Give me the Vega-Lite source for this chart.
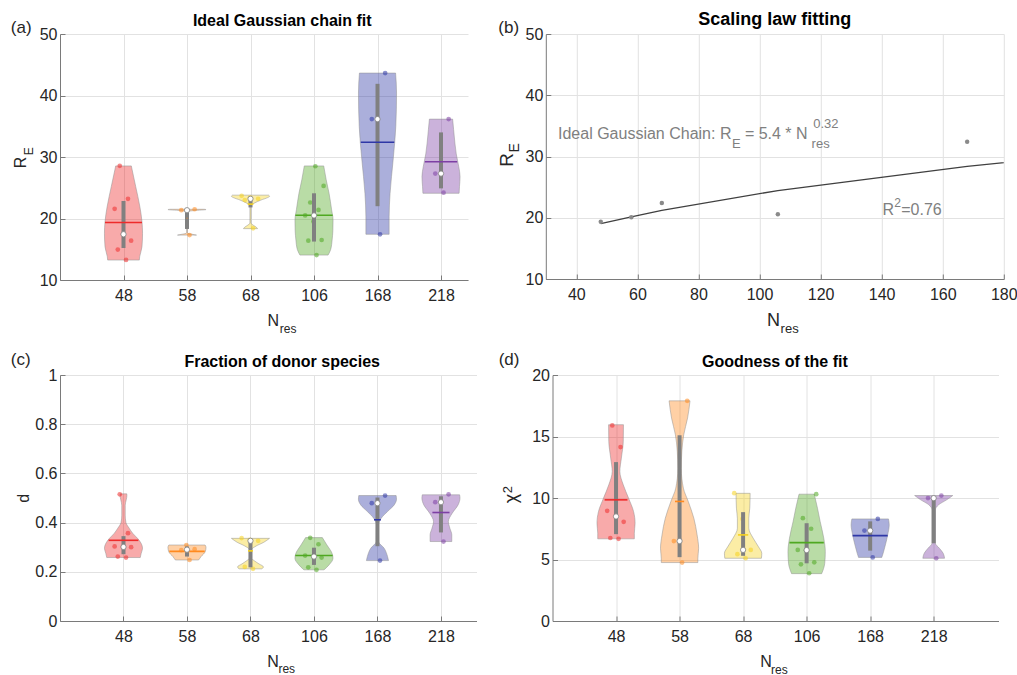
{
"$schema": "https://vega.github.io/schema/vega-lite/v6.json",
"background": "white",
"padding": {"left": 10, "top": 10, "right": 0, "bottom": 0},
"config": {
 "view": {"stroke": null},
 "font": "Liberation Sans",
 "text": {"font": "Liberation Sans", "color": "#000000"},
 "axis": {"labelFont": "Liberation Sans", "labelFontSize": 16, "labelColor": "#262626", "domainColor": "#7a7a7a", "tickColor": "#7a7a7a", "gridColor": "#e2e2e2", "gridWidth": 1, "tickSize": -5, "labelFlush": false},
 "axisX": {"labelPadding": 12},
 "axisY": {"labelPadding": 8}
},
"datasets": {
 "violin": [
  {"p":"a","N":48,"y":13.24,"w":0.83},{"p":"a","N":48,"y":13.8,"w":0.85},{"p":"a","N":48,"y":15.4,"w":0.97},{"p":"a","N":48,"y":17.6,"w":1},{"p":"a","N":48,"y":19.5,"w":0.97},{"p":"a","N":48,"y":21.9,"w":0.86},{"p":"a","N":48,"y":25.2,"w":0.64},{"p":"a","N":48,"y":28.55,"w":0.41},
  {"p":"a","N":58,"y":17.3,"w":0.5},{"p":"a","N":58,"y":17.45,"w":0.25},{"p":"a","N":58,"y":17.6,"w":0.05},{"p":"a","N":58,"y":17.8,"w":0.015},{"p":"a","N":58,"y":21.1,"w":0.015},{"p":"a","N":58,"y":21.3,"w":0.4},{"p":"a","N":58,"y":21.45,"w":1},{"p":"a","N":58,"y":21.5,"w":0.9},
  {"p":"a","N":68,"y":18.35,"w":0.37},{"p":"a","N":68,"y":18.6,"w":0.3},{"p":"a","N":68,"y":18.9,"w":0.15},{"p":"a","N":68,"y":19.25,"w":0.03},{"p":"a","N":68,"y":22.2,"w":0.03},{"p":"a","N":68,"y":22.5,"w":0.2},{"p":"a","N":68,"y":23,"w":0.55},{"p":"a","N":68,"y":23.4,"w":0.9},{"p":"a","N":68,"y":23.6,"w":1},{"p":"a","N":68,"y":23.8,"w":0.95},
  {"p":"a","N":106,"y":14.05,"w":0.74},{"p":"a","N":106,"y":15,"w":0.88},{"p":"a","N":106,"y":16.5,"w":0.95},{"p":"a","N":106,"y":18,"w":0.99},{"p":"a","N":106,"y":19.75,"w":1},{"p":"a","N":106,"y":21.5,"w":0.92},{"p":"a","N":106,"y":24.1,"w":0.79},{"p":"a","N":106,"y":26.3,"w":0.64},{"p":"a","N":106,"y":28.55,"w":0.51},
  {"p":"a","N":168,"y":17.43,"w":0.61},{"p":"a","N":168,"y":20.3,"w":0.61},{"p":"a","N":168,"y":24.1,"w":0.66},{"p":"a","N":168,"y":29.5,"w":0.82},{"p":"a","N":168,"y":34.95,"w":0.96},{"p":"a","N":168,"y":40.4,"w":1},{"p":"a","N":168,"y":43.65,"w":0.95},
  {"p":"a","N":218,"y":24.1,"w":0.95},{"p":"a","N":218,"y":25.2,"w":0.97},{"p":"a","N":218,"y":26.8,"w":1},{"p":"a","N":218,"y":28.45,"w":0.93},{"p":"a","N":218,"y":30.5,"w":0.8},{"p":"a","N":218,"y":32.25,"w":0.73},{"p":"a","N":218,"y":34.5,"w":0.66},{"p":"a","N":218,"y":36.16,"w":0.61},
  {"p":"c","N":48,"y":0.258,"w":0.88},{"p":"c","N":48,"y":0.275,"w":0.93},{"p":"c","N":48,"y":0.296,"w":1},{"p":"c","N":48,"y":0.315,"w":0.93},{"p":"c","N":48,"y":0.335,"w":0.75},{"p":"c","N":48,"y":0.355,"w":0.5},{"p":"c","N":48,"y":0.377,"w":0.3},{"p":"c","N":48,"y":0.4,"w":0.13},{"p":"c","N":48,"y":0.43,"w":0.09},{"p":"c","N":48,"y":0.47,"w":0.09},{"p":"c","N":48,"y":0.495,"w":0.15},{"p":"c","N":48,"y":0.51,"w":0.18},{"p":"c","N":48,"y":0.517,"w":0.17},
  {"p":"c","N":58,"y":0.248,"w":0.61},{"p":"c","N":58,"y":0.262,"w":0.74},{"p":"c","N":58,"y":0.282,"w":0.96},{"p":"c","N":58,"y":0.3,"w":1},{"p":"c","N":58,"y":0.309,"w":0.95},
  {"p":"c","N":68,"y":0.212,"w":0.6},{"p":"c","N":68,"y":0.22,"w":0.68},{"p":"c","N":68,"y":0.232,"w":0.45},{"p":"c","N":68,"y":0.245,"w":0.2},{"p":"c","N":68,"y":0.255,"w":0.06},{"p":"c","N":68,"y":0.29,"w":0.06},{"p":"c","N":68,"y":0.305,"w":0.3},{"p":"c","N":68,"y":0.32,"w":0.7},{"p":"c","N":68,"y":0.336,"w":1},
  {"p":"c","N":106,"y":0.208,"w":0.53},{"p":"c","N":106,"y":0.228,"w":0.79},{"p":"c","N":106,"y":0.255,"w":1},{"p":"c","N":106,"y":0.275,"w":0.95},{"p":"c","N":106,"y":0.309,"w":0.68},{"p":"c","N":106,"y":0.339,"w":0.44},
  {"p":"c","N":168,"y":0.2455,"w":0.58},{"p":"c","N":168,"y":0.262,"w":0.53},{"p":"c","N":168,"y":0.296,"w":0.35},{"p":"c","N":168,"y":0.323,"w":0.06},{"p":"c","N":168,"y":0.391,"w":0.05},{"p":"c","N":168,"y":0.418,"w":0.2},{"p":"c","N":168,"y":0.445,"w":0.53},{"p":"c","N":168,"y":0.472,"w":0.88},{"p":"c","N":168,"y":0.495,"w":1},{"p":"c","N":168,"y":0.51,"w":0.98},
  {"p":"c","N":218,"y":0.323,"w":0.57},{"p":"c","N":218,"y":0.35,"w":0.57},{"p":"c","N":218,"y":0.377,"w":0.47},{"p":"c","N":218,"y":0.404,"w":0.39},{"p":"c","N":218,"y":0.438,"w":0.59},{"p":"c","N":218,"y":0.472,"w":0.9},{"p":"c","N":218,"y":0.5,"w":1},{"p":"c","N":218,"y":0.513,"w":0.98},
  {"p":"d","N":48,"y":6.68,"w":0.96},{"p":"d","N":48,"y":7.13,"w":0.96},{"p":"d","N":48,"y":7.95,"w":1},{"p":"d","N":48,"y":8.9,"w":0.92},{"p":"d","N":48,"y":9.98,"w":0.66},{"p":"d","N":48,"y":11.07,"w":0.38},{"p":"d","N":48,"y":12.16,"w":0.2},{"p":"d","N":48,"y":13.24,"w":0.28},{"p":"d","N":48,"y":14.6,"w":0.38},{"p":"d","N":48,"y":15.96,"w":0.39},
  {"p":"d","N":58,"y":4.75,"w":0.96},{"p":"d","N":58,"y":5.1,"w":0.96},{"p":"d","N":58,"y":5.91,"w":1},{"p":"d","N":58,"y":7,"w":0.92},{"p":"d","N":58,"y":8.35,"w":0.75},{"p":"d","N":58,"y":9.7,"w":0.46},{"p":"d","N":58,"y":10.8,"w":0.2},{"p":"d","N":58,"y":12.4,"w":0.09},{"p":"d","N":58,"y":13.8,"w":0.12},{"p":"d","N":58,"y":15.15,"w":0.22},{"p":"d","N":58,"y":16.5,"w":0.42},{"p":"d","N":58,"y":17.9,"w":0.55},
  {"p":"d","N":68,"y":5.1,"w":0.96},{"p":"d","N":68,"y":5.5,"w":0.98},{"p":"d","N":68,"y":6.05,"w":0.8},{"p":"d","N":68,"y":6.73,"w":0.53},{"p":"d","N":68,"y":7.54,"w":0.3},{"p":"d","N":68,"y":8.36,"w":0.3},{"p":"d","N":68,"y":9.17,"w":0.35},{"p":"d","N":68,"y":10.38,"w":0.37},
  {"p":"d","N":106,"y":3.85,"w":0.79},{"p":"d","N":106,"y":4.69,"w":0.95},{"p":"d","N":106,"y":5.64,"w":0.98},{"p":"d","N":106,"y":6.73,"w":0.9},{"p":"d","N":106,"y":8.09,"w":0.71},{"p":"d","N":106,"y":9.17,"w":0.57},{"p":"d","N":106,"y":10.31,"w":0.4},
  {"p":"d","N":168,"y":5.17,"w":0.61},{"p":"d","N":168,"y":5.5,"w":0.68},{"p":"d","N":168,"y":6.19,"w":0.8},{"p":"d","N":168,"y":7,"w":0.92},{"p":"d","N":168,"y":7.82,"w":1},{"p":"d","N":168,"y":8.3,"w":0.96},
  {"p":"d","N":218,"y":5.1,"w":0.57},{"p":"d","N":218,"y":5.5,"w":0.5},{"p":"d","N":218,"y":5.91,"w":0.3},{"p":"d","N":218,"y":6.32,"w":0.09},{"p":"d","N":218,"y":9.04,"w":0.09},{"p":"d","N":218,"y":9.45,"w":0.26},{"p":"d","N":218,"y":9.85,"w":0.68},{"p":"d","N":218,"y":10.2,"w":1}
 ],
 "pts": [
  {"p":"a","N":48,"v":13.27},{"p":"a","N":48,"v":14.95},{"p":"a","N":48,"v":16.4},{"p":"a","N":48,"v":17.44},{"p":"a","N":48,"v":21.57},{"p":"a","N":48,"v":23.2},{"p":"a","N":48,"v":28.57},
  {"p":"a","N":58,"v":17.3},{"p":"a","N":58,"v":21.35},{"p":"a","N":58,"v":21.5},
  {"p":"a","N":68,"v":18.4},{"p":"a","N":68,"v":23.0},{"p":"a","N":68,"v":23.2},{"p":"a","N":68,"v":23.4},{"p":"a","N":68,"v":23.7},
  {"p":"a","N":106,"v":14.05},{"p":"a","N":106,"v":16.4},{"p":"a","N":106,"v":16.5},{"p":"a","N":106,"v":19.5},{"p":"a","N":106,"v":20.5},{"p":"a","N":106,"v":21.4},{"p":"a","N":106,"v":22.6},{"p":"a","N":106,"v":25.3},{"p":"a","N":106,"v":28.5},
  {"p":"a","N":168,"v":17.43},{"p":"a","N":168,"v":36.16},{"p":"a","N":168,"v":43.65},
  {"p":"a","N":218,"v":24.2},{"p":"a","N":218,"v":27.3},{"p":"a","N":218,"v":36.16},
  {"p":"c","N":48,"v":0.258},{"p":"c","N":48,"v":0.262},{"p":"c","N":48,"v":0.3},{"p":"c","N":48,"v":0.301},{"p":"c","N":48,"v":0.303},{"p":"c","N":48,"v":0.357},{"p":"c","N":48,"v":0.515},
  {"p":"c","N":58,"v":0.248},{"p":"c","N":58,"v":0.288},{"p":"c","N":58,"v":0.292},{"p":"c","N":58,"v":0.309},
  {"p":"c","N":68,"v":0.212},{"p":"c","N":68,"v":0.22},{"p":"c","N":68,"v":0.326},{"p":"c","N":68,"v":0.33},{"p":"c","N":68,"v":0.337},
  {"p":"c","N":106,"v":0.208},{"p":"c","N":106,"v":0.218},{"p":"c","N":106,"v":0.258},{"p":"c","N":106,"v":0.262},{"p":"c","N":106,"v":0.266},{"p":"c","N":106,"v":0.312},{"p":"c","N":106,"v":0.338},
  {"p":"c","N":168,"v":0.2455},{"p":"c","N":168,"v":0.479},{"p":"c","N":168,"v":0.51},
  {"p":"c","N":218,"v":0.323},{"p":"c","N":218,"v":0.483},{"p":"c","N":218,"v":0.515},
  {"p":"d","N":48,"v":6.68},{"p":"d","N":48,"v":6.75},{"p":"d","N":48,"v":8.06},{"p":"d","N":48,"v":8.5},{"p":"d","N":48,"v":8.96},{"p":"d","N":48,"v":14.14},{"p":"d","N":48,"v":15.9},
  {"p":"d","N":58,"v":4.75},{"p":"d","N":58,"v":6.5},{"p":"d","N":58,"v":17.9},
  {"p":"d","N":68,"v":5.1},{"p":"d","N":68,"v":5.43},{"p":"d","N":68,"v":5.78},{"p":"d","N":68,"v":8.3},{"p":"d","N":68,"v":10.39},
  {"p":"d","N":106,"v":3.88},{"p":"d","N":106,"v":4.61},{"p":"d","N":106,"v":4.77},{"p":"d","N":106,"v":5.75},{"p":"d","N":106,"v":5.78},{"p":"d","N":106,"v":7.5},{"p":"d","N":106,"v":8.36},{"p":"d","N":106,"v":10.31},
  {"p":"d","N":168,"v":5.17},{"p":"d","N":168,"v":7.35},{"p":"d","N":168,"v":8.3},
  {"p":"d","N":218,"v":5.1},{"p":"d","N":218,"v":9.99},{"p":"d","N":218,"v":10.2}
 ],
 "stats": [
  {"p":"a","N":48,"q1":15.2,"q3":22.85,"med":17.44,"mean":19.34,"dm":0.97},
  {"p":"a","N":58,"q1":18.3,"q3":21.46,"med":21.35,"mean":20.05,"dm":0.015},
  {"p":"a","N":68,"q1":21.8,"q3":23.48,"med":23.2,"mean":22.34,"dm":0.15},
  {"p":"a","N":106,"q1":16.25,"q3":24.1,"med":20.5,"mean":20.54,"dm":0.98},
  {"p":"a","N":168,"q1":22.0,"q3":41.9,"med":36.16,"mean":32.41,"dm":0.88},
  {"p":"a","N":218,"q1":24.9,"q3":34.0,"med":27.3,"mean":29.22,"dm":0.85},
  {"p":"c","N":48,"q1":0.2715,"q3":0.345,"med":0.301,"mean":0.328,"dm":0.78},
  {"p":"c","N":58,"q1":0.262,"q3":0.303,"med":0.29,"mean":0.283,"dm":0.93},
  {"p":"c","N":68,"q1":0.218,"q3":0.332,"med":0.326,"mean":0.285,"dm":0.13},
  {"p":"c","N":106,"q1":0.228,"q3":0.298,"med":0.262,"mean":0.266,"dm":0.98},
  {"p":"c","N":168,"q1":0.304,"q3":0.502,"med":0.479,"mean":0.4115,"dm":0.18},
  {"p":"c","N":218,"q1":0.36,"q3":0.507,"med":0.483,"mean":0.441,"dm":0.45},
  {"p":"d","N":48,"q1":7.06,"q3":12.92,"med":8.5,"mean":9.85,"dm":0.6},
  {"p":"d","N":58,"q1":5.19,"q3":15.1,"med":6.5,"mean":9.72,"dm":0.24},
  {"p":"d","N":68,"q1":5.3,"q3":8.85,"med":5.78,"mean":7.0,"dm":0.27},
  {"p":"d","N":106,"q1":4.69,"q3":7.95,"med":5.765,"mean":6.37,"dm":0.9},
  {"p":"d","N":168,"q1":5.72,"q3":8.1,"med":7.35,"mean":6.94,"dm":0.92},
  {"p":"d","N":218,"q1":6.32,"q3":10.15,"med":9.99,"mean":8.43,"dm":0.0}
 ],
 "fit": [{"N":48,"R":19.05},{"N":58,"R":20.15},{"N":68,"R":21.2},{"N":106,"R":24.44},{"N":168,"R":28.4},{"N":218,"R":30.9}],
 "means": [{"N":48,"R":19.33},{"N":58,"R":20.08},{"N":68,"R":22.4},{"N":106,"R":20.57},{"N":168,"R":32.4}]
},
"spacing": 14,
"resolve": {"scale": {"x": "independent", "y": "independent"}},
"vconcat": [
{"hconcat": [
 {
  "width": 408, "height": 246,
  "layer": [
   {"data": {"name": "violin"},
    "transform": [{"filter": "datum.p === 'a'"}, {"calculate": "indexof([48,58,68,106,168,218], datum.N) + 1", "as": "idx"}, {"calculate": "datum.idx - 0.3 * datum.w", "as": "lo"}, {"calculate": "datum.idx + 0.3 * datum.w", "as": "hi"}],
    "mark": {"type": "area", "orient": "horizontal", "fillOpacity": 0.4, "stroke": "#8f8f8f", "strokeWidth": 0.7, "strokeOpacity": 0.7, "interpolate": "monotone"},
    "encoding": {
     "y": {"field": "y", "type": "quantitative", "title": null, "scale": {"domain": [10, 50], "nice": false, "zero": false}, "axis": {"values": [10, 20, 30, 40, 50]}},
     "x": {"field": "lo", "type": "quantitative", "title": null, "scale": {"domain": [0, 6.425], "nice": false, "zero": false}, "axis": {"values": [1, 2, 3, 4, 5, 6], "labelExpr": "['','48','58','68','106','168','218'][datum.value]"}},
     "x2": {"field": "hi"},
     "fill": {"field": "N", "type": "nominal", "legend": null, "scale": {"domain": [48, 58, 68, 106, 168, 218], "range": ["#EE2B2B", "#FF8A1F", "#F5D21E", "#4FA821", "#2E37A6", "#7D3FA4"]}}
    }},
   {"data": {"name": "pts"},
    "transform": [{"filter": "datum.p === 'a'"}, {"window": [{"op": "row_number", "as": "rn"}], "groupby": ["N"]}, {"calculate": "indexof([48,58,68,106,168,218], datum.N) + 1 + ((datum.rn * 0.618) % 1 - 0.5) * 0.34", "as": "px"}],
    "mark": {"type": "circle", "size": 22, "opacity": 0.55},
    "encoding": {"x": {"field": "px", "type": "quantitative", "title": null}, "y": {"field": "v", "type": "quantitative", "title": null},
     "color": {"field": "N", "type": "nominal", "legend": null, "scale": {"domain": [48, 58, 68, 106, 168, 218], "range": ["#EE2B2B", "#FF8A1F", "#F5D21E", "#4FA821", "#2E37A6", "#7D3FA4"]}}}},
   {"data": {"name": "stats"},
    "transform": [{"filter": "datum.p === 'a'"}, {"calculate": "indexof([48,58,68,106,168,218], datum.N) + 1", "as": "idx"}],
    "mark": {"type": "rule", "strokeWidth": 4, "color": "#808080"},
    "encoding": {"x": {"field": "idx", "type": "quantitative", "title": null}, "y": {"field": "q1", "type": "quantitative", "title": null}, "y2": {"field": "q3"}}},
   {"data": {"name": "stats"},
    "transform": [{"filter": "datum.p === 'a'"}, {"calculate": "indexof([48,58,68,106,168,218], datum.N) + 1", "as": "idx"}, {"calculate": "datum.idx - 0.3 * datum.dm", "as": "mlo"}, {"calculate": "datum.idx + 0.3 * datum.dm", "as": "mhi"}],
    "mark": {"type": "rule", "strokeWidth": 1.6},
    "encoding": {"x": {"field": "mlo", "type": "quantitative", "title": null}, "x2": {"field": "mhi"}, "y": {"field": "mean", "type": "quantitative", "title": null},
     "color": {"field": "N", "type": "nominal", "legend": null, "scale": {"domain": [48, 58, 68, 106, 168, 218], "range": ["#EE2B2B", "#FF8A1F", "#F5D21E", "#4FA821", "#2E37A6", "#7D3FA4"]}}}},
   {"data": {"name": "stats"},
    "transform": [{"filter": "datum.p === 'a'"}, {"calculate": "indexof([48,58,68,106,168,218], datum.N) + 1", "as": "idx"}],
    "mark": {"type": "circle", "size": 28, "fill": "white", "stroke": "#808080", "strokeWidth": 0.8, "opacity": 1},
    "encoding": {"x": {"field": "idx", "type": "quantitative", "title": null}, "y": {"field": "med", "type": "quantitative", "title": null}}},
   {"data": {"values": [{}]}, "mark": {"type": "text", "text": "Ideal Gaussian chain fit", "fontSize": 16, "fontWeight": "bold", "align": "center", "baseline": "alphabetic"}, "encoding": {"x": {"datum": 3.5}, "y": {"datum": 51.24}}},
   {"data": {"values": [{}]}, "mark": {"type": "text", "text": "(a)", "fontSize": 17, "align": "left", "baseline": "alphabetic", "color": "#262626"}, "encoding": {"x": {"datum": -0.775}, "y": {"datum": 50.2}}},
   {"data": {"values": [{}]}, "mark": {"type": "text", "text": "R", "fontSize": 16, "angle": 270, "align": "center", "baseline": "alphabetic", "color": "#262626"}, "encoding": {"x": {"datum": -0.528}, "y": {"datum": 29.12}}},
   {"data": {"values": [{}]}, "mark": {"type": "text", "text": "E", "fontSize": 12, "angle": 270, "align": "center", "baseline": "alphabetic", "color": "#262626"}, "encoding": {"x": {"datum": -0.433}, "y": {"datum": 30.94}}},
   {"data": {"values": [{}]}, "mark": {"type": "text", "text": "N", "fontSize": 16, "align": "center", "baseline": "alphabetic", "color": "#262626"}, "encoding": {"x": {"datum": 3.36}, "y": {"datum": 2.56}}},
   {"data": {"values": [{}]}, "mark": {"type": "text", "text": "res", "fontSize": 12, "align": "left", "baseline": "alphabetic", "color": "#262626"}, "encoding": {"x": {"datum": 3.46}, "y": {"datum": 1.42}}}
  ]
 },
 {
  "width": 458, "height": 245,
  "layer": [
   {"data": {"name": "fit"},
    "mark": {"type": "line", "color": "#404040", "strokeWidth": 1.3, "clip": true},
    "encoding": {
     "x": {"field": "N", "type": "quantitative", "title": null, "scale": {"domain": [30, 180], "nice": false, "zero": false}, "axis": {"values": [40, 60, 80, 100, 120, 140, 160, 180]}},
     "y": {"field": "R", "type": "quantitative", "title": null, "scale": {"domain": [10, 50], "nice": false, "zero": false}, "axis": {"values": [10, 20, 30, 40, 50]}}
    }},
   {"data": {"name": "means"},
    "mark": {"type": "circle", "size": 20, "color": "#8a8a8a", "opacity": 1},
    "encoding": {"x": {"field": "N", "type": "quantitative", "title": null}, "y": {"field": "R", "type": "quantitative", "title": null}}},
   {"data": {"values": [{}]}, "mark": {"type": "text", "text": "Scaling law fitting", "fontSize": 18, "fontWeight": "bold", "align": "center", "baseline": "alphabetic"}, "encoding": {"x": {"datum": 105}, "y": {"datum": 51.47}}},
   {"data": {"values": [{}]}, "mark": {"type": "text", "text": "(b)", "fontSize": 17, "align": "left", "baseline": "alphabetic", "color": "#262626"}, "encoding": {"x": {"datum": 14.43}, "y": {"datum": 50.16}}},
   {"data": {"values": [{}]}, "mark": {"type": "text", "text": "R", "fontSize": 19, "angle": 270, "align": "center", "baseline": "alphabetic", "color": "#262626"}, "encoding": {"x": {"datum": 19.3}, "y": {"datum": 29.45}}},
   {"data": {"values": [{}]}, "mark": {"type": "text", "text": "E", "fontSize": 14, "angle": 270, "align": "center", "baseline": "alphabetic", "color": "#262626"}, "encoding": {"x": {"datum": 21.2}, "y": {"datum": 31.4}}},
   {"data": {"values": [{}]}, "mark": {"type": "text", "text": "N", "fontSize": 18, "align": "center", "baseline": "alphabetic", "color": "#262626"}, "encoding": {"x": {"datum": 104.6}, "y": {"datum": 2.38}}},
   {"data": {"values": [{}]}, "mark": {"type": "text", "text": "res", "fontSize": 13, "align": "left", "baseline": "alphabetic", "color": "#262626"}, "encoding": {"x": {"datum": 106.9}, "y": {"datum": 1.24}}},
   {"data": {"values": [{}]}, "mark": {"type": "text", "text": "Ideal Gaussian Chain: R", "fontSize": 16, "align": "left", "baseline": "alphabetic", "color": "#808080"}, "encoding": {"x": {"datum": 34.0}, "y": {"datum": 32.82}}},
   {"data": {"values": [{}]}, "mark": {"type": "text", "text": "E", "fontSize": 13, "align": "left", "baseline": "alphabetic", "color": "#808080"}, "encoding": {"x": {"datum": 91.0}, "y": {"datum": 31.35}}},
   {"data": {"values": [{}]}, "mark": {"type": "text", "text": "= 5.4 * N", "fontSize": 16, "align": "left", "baseline": "alphabetic", "color": "#808080"}, "encoding": {"x": {"datum": 95.2}, "y": {"datum": 32.82}}},
   {"data": {"values": [{}]}, "mark": {"type": "text", "text": "res", "fontSize": 13, "align": "left", "baseline": "alphabetic", "color": "#808080"}, "encoding": {"x": {"datum": 117.05}, "y": {"datum": 31.35}}},
   {"data": {"values": [{}]}, "mark": {"type": "text", "text": "0.32", "fontSize": 13, "align": "left", "baseline": "alphabetic", "color": "#808080"}, "encoding": {"x": {"datum": 117.6}, "y": {"datum": 34.62}}},
   {"data": {"values": [{}]}, "mark": {"type": "text", "text": "R", "fontSize": 16, "align": "left", "baseline": "alphabetic", "color": "#808080"}, "encoding": {"x": {"datum": 140.3}, "y": {"datum": 20.47}}},
   {"data": {"values": [{}]}, "mark": {"type": "text", "text": "2", "fontSize": 12, "align": "left", "baseline": "alphabetic", "color": "#808080"}, "encoding": {"x": {"datum": 144.1}, "y": {"datum": 21.75}}},
   {"data": {"values": [{}]}, "mark": {"type": "text", "text": "=0.76", "fontSize": 16, "align": "left", "baseline": "alphabetic", "color": "#808080"}, "encoding": {"x": {"datum": 146.4}, "y": {"datum": 20.47}}}
  ]
 }
], "spacing": 29.8, "resolve": {"scale": {"x": "independent", "y": "independent"}}},
{"hconcat": [
 {
  "width": 416.5, "height": 246,
  "layer": [
   {"data": {"name": "violin"},
    "transform": [{"filter": "datum.p === 'c'"}, {"calculate": "indexof([48,58,68,106,168,218], datum.N) + 1", "as": "idx"}, {"calculate": "datum.idx - 0.3 * datum.w", "as": "lo"}, {"calculate": "datum.idx + 0.3 * datum.w", "as": "hi"}],
    "mark": {"type": "area", "orient": "horizontal", "fillOpacity": 0.4, "stroke": "#8f8f8f", "strokeWidth": 0.7, "strokeOpacity": 0.7, "interpolate": "monotone"},
    "encoding": {
     "y": {"field": "y", "type": "quantitative", "title": null, "scale": {"domain": [0, 1], "nice": false, "zero": false}, "axis": {"values": [0, 0.2, 0.4, 0.6, 0.8, 1], "format": "~g"}},
     "x": {"field": "lo", "type": "quantitative", "title": null, "scale": {"domain": [0, 6.56], "nice": false, "zero": false}, "axis": {"values": [1, 2, 3, 4, 5, 6], "labelExpr": "['','48','58','68','106','168','218'][datum.value]"}},
     "x2": {"field": "hi"},
     "fill": {"field": "N", "type": "nominal", "legend": null, "scale": {"domain": [48, 58, 68, 106, 168, 218], "range": ["#EE2B2B", "#FF8A1F", "#F5D21E", "#4FA821", "#2E37A6", "#7D3FA4"]}}
    }},
   {"data": {"name": "pts"},
    "transform": [{"filter": "datum.p === 'c'"}, {"window": [{"op": "row_number", "as": "rn"}], "groupby": ["N"]}, {"calculate": "indexof([48,58,68,106,168,218], datum.N) + 1 + ((datum.rn * 0.618) % 1 - 0.5) * 0.34", "as": "px"}],
    "mark": {"type": "circle", "size": 22, "opacity": 0.55},
    "encoding": {"x": {"field": "px", "type": "quantitative", "title": null}, "y": {"field": "v", "type": "quantitative", "title": null},
     "color": {"field": "N", "type": "nominal", "legend": null, "scale": {"domain": [48, 58, 68, 106, 168, 218], "range": ["#EE2B2B", "#FF8A1F", "#F5D21E", "#4FA821", "#2E37A6", "#7D3FA4"]}}}},
   {"data": {"name": "stats"},
    "transform": [{"filter": "datum.p === 'c'"}, {"calculate": "indexof([48,58,68,106,168,218], datum.N) + 1", "as": "idx"}],
    "mark": {"type": "rule", "strokeWidth": 4, "color": "#808080"},
    "encoding": {"x": {"field": "idx", "type": "quantitative", "title": null}, "y": {"field": "q1", "type": "quantitative", "title": null}, "y2": {"field": "q3"}}},
   {"data": {"name": "stats"},
    "transform": [{"filter": "datum.p === 'c'"}, {"calculate": "indexof([48,58,68,106,168,218], datum.N) + 1", "as": "idx"}, {"calculate": "datum.idx - 0.3 * datum.dm", "as": "mlo"}, {"calculate": "datum.idx + 0.3 * datum.dm", "as": "mhi"}],
    "mark": {"type": "rule", "strokeWidth": 1.6},
    "encoding": {"x": {"field": "mlo", "type": "quantitative", "title": null}, "x2": {"field": "mhi"}, "y": {"field": "mean", "type": "quantitative", "title": null},
     "color": {"field": "N", "type": "nominal", "legend": null, "scale": {"domain": [48, 58, 68, 106, 168, 218], "range": ["#EE2B2B", "#FF8A1F", "#F5D21E", "#4FA821", "#2E37A6", "#7D3FA4"]}}}},
   {"data": {"name": "stats"},
    "transform": [{"filter": "datum.p === 'c'"}, {"calculate": "indexof([48,58,68,106,168,218], datum.N) + 1", "as": "idx"}],
    "mark": {"type": "circle", "size": 28, "fill": "white", "stroke": "#808080", "strokeWidth": 0.8, "opacity": 1},
    "encoding": {"x": {"field": "idx", "type": "quantitative", "title": null}, "y": {"field": "med", "type": "quantitative", "title": null}}},
   {"data": {"values": [{}]}, "mark": {"type": "text", "text": "Fraction of donor species", "fontSize": 16, "fontWeight": "bold", "align": "center", "baseline": "alphabetic"}, "encoding": {"x": {"datum": 3.5}, "y": {"datum": 1.031}}},
   {"data": {"values": [{}]}, "mark": {"type": "text", "text": "(c)", "fontSize": 17, "align": "left", "baseline": "alphabetic", "color": "#262626"}, "encoding": {"x": {"datum": -0.775}, "y": {"datum": 1.0415}}},
   {"data": {"values": [{}]}, "mark": {"type": "text", "text": "d", "fontSize": 16, "angle": 270, "align": "center", "baseline": "alphabetic", "color": "#262626"}, "encoding": {"x": {"datum": -0.487}, "y": {"datum": 0.499}}},
   {"data": {"values": [{}]}, "mark": {"type": "text", "text": "N", "fontSize": 16, "align": "center", "baseline": "alphabetic", "color": "#262626"}, "encoding": {"x": {"datum": 3.354}, "y": {"datum": -0.186}}},
   {"data": {"values": [{}]}, "mark": {"type": "text", "text": "res", "fontSize": 12, "align": "left", "baseline": "alphabetic", "color": "#262626"}, "encoding": {"x": {"datum": 3.44}, "y": {"datum": -0.21}}}
  ]
 },
 {
  "width": 446, "height": 246,
  "layer": [
   {"data": {"name": "violin"},
    "transform": [{"filter": "datum.p === 'd'"}, {"calculate": "indexof([48,58,68,106,168,218], datum.N) + 1", "as": "idx"}, {"calculate": "datum.idx - 0.3 * datum.w", "as": "lo"}, {"calculate": "datum.idx + 0.3 * datum.w", "as": "hi"}],
    "mark": {"type": "area", "orient": "horizontal", "fillOpacity": 0.4, "stroke": "#8f8f8f", "strokeWidth": 0.7, "strokeOpacity": 0.7, "interpolate": "monotone"},
    "encoding": {
     "y": {"field": "y", "type": "quantitative", "title": null, "scale": {"domain": [0, 20], "nice": false, "zero": false}, "axis": {"values": [0, 5, 10, 15, 20]}},
     "x": {"field": "lo", "type": "quantitative", "title": null, "scale": {"domain": [0, 7.02], "nice": false, "zero": false}, "axis": {"values": [1, 2, 3, 4, 5, 6], "labelExpr": "['','48','58','68','106','168','218'][datum.value]"}},
     "x2": {"field": "hi"},
     "fill": {"field": "N", "type": "nominal", "legend": null, "scale": {"domain": [48, 58, 68, 106, 168, 218], "range": ["#EE2B2B", "#FF8A1F", "#F5D21E", "#4FA821", "#2E37A6", "#7D3FA4"]}}
    }},
   {"data": {"name": "pts"},
    "transform": [{"filter": "datum.p === 'd'"}, {"window": [{"op": "row_number", "as": "rn"}], "groupby": ["N"]}, {"calculate": "indexof([48,58,68,106,168,218], datum.N) + 1 + ((datum.rn * 0.618) % 1 - 0.5) * 0.34", "as": "px"}],
    "mark": {"type": "circle", "size": 22, "opacity": 0.55},
    "encoding": {"x": {"field": "px", "type": "quantitative", "title": null}, "y": {"field": "v", "type": "quantitative", "title": null},
     "color": {"field": "N", "type": "nominal", "legend": null, "scale": {"domain": [48, 58, 68, 106, 168, 218], "range": ["#EE2B2B", "#FF8A1F", "#F5D21E", "#4FA821", "#2E37A6", "#7D3FA4"]}}}},
   {"data": {"name": "stats"},
    "transform": [{"filter": "datum.p === 'd'"}, {"calculate": "indexof([48,58,68,106,168,218], datum.N) + 1", "as": "idx"}],
    "mark": {"type": "rule", "strokeWidth": 4, "color": "#808080"},
    "encoding": {"x": {"field": "idx", "type": "quantitative", "title": null}, "y": {"field": "q1", "type": "quantitative", "title": null}, "y2": {"field": "q3"}}},
   {"data": {"name": "stats"},
    "transform": [{"filter": "datum.p === 'd'"}, {"calculate": "indexof([48,58,68,106,168,218], datum.N) + 1", "as": "idx"}, {"calculate": "datum.idx - 0.3 * datum.dm", "as": "mlo"}, {"calculate": "datum.idx + 0.3 * datum.dm", "as": "mhi"}],
    "mark": {"type": "rule", "strokeWidth": 1.6},
    "encoding": {"x": {"field": "mlo", "type": "quantitative", "title": null}, "x2": {"field": "mhi"}, "y": {"field": "mean", "type": "quantitative", "title": null},
     "color": {"field": "N", "type": "nominal", "legend": null, "scale": {"domain": [48, 58, 68, 106, 168, 218], "range": ["#EE2B2B", "#FF8A1F", "#F5D21E", "#4FA821", "#2E37A6", "#7D3FA4"]}}}},
   {"data": {"name": "stats"},
    "transform": [{"filter": "datum.p === 'd'"}, {"calculate": "indexof([48,58,68,106,168,218], datum.N) + 1", "as": "idx"}],
    "mark": {"type": "circle", "size": 28, "fill": "white", "stroke": "#808080", "strokeWidth": 0.8, "opacity": 1},
    "encoding": {"x": {"field": "idx", "type": "quantitative", "title": null}, "y": {"field": "med", "type": "quantitative", "title": null}}},
   {"data": {"values": [{}]}, "mark": {"type": "text", "text": "Goodness of the fit", "fontSize": 16, "fontWeight": "bold", "align": "center", "baseline": "alphabetic"}, "encoding": {"x": {"datum": 3.5}, "y": {"datum": 20.62}}},
   {"data": {"values": [{}]}, "mark": {"type": "text", "text": "(d)", "fontSize": 17, "align": "left", "baseline": "alphabetic", "color": "#262626"}, "encoding": {"x": {"datum": -0.847}, "y": {"datum": 20.83}}},
   {"data": {"values": [{}]}, "mark": {"type": "text", "text": "χ", "fontSize": 18, "angle": 270, "align": "center", "baseline": "alphabetic", "color": "#262626"}, "encoding": {"x": {"datum": -0.564}, "y": {"datum": 9.96}}},
   {"data": {"values": [{}]}, "mark": {"type": "text", "text": "2", "fontSize": 13, "angle": 270, "align": "center", "baseline": "alphabetic", "color": "#262626"}, "encoding": {"x": {"datum": -0.63}, "y": {"datum": 10.68}}},
   {"data": {"values": [{}]}, "mark": {"type": "text", "text": "N", "fontSize": 16, "align": "center", "baseline": "alphabetic", "color": "#262626"}, "encoding": {"x": {"datum": 3.36}, "y": {"datum": -3.72}}},
   {"data": {"values": [{}]}, "mark": {"type": "text", "text": "res", "fontSize": 12, "align": "left", "baseline": "alphabetic", "color": "#262626"}, "encoding": {"x": {"datum": 3.44}, "y": {"datum": -4.3}}}
  ]
 }
], "spacing": 21.5, "resolve": {"scale": {"x": "independent", "y": "independent"}}}
]
}
